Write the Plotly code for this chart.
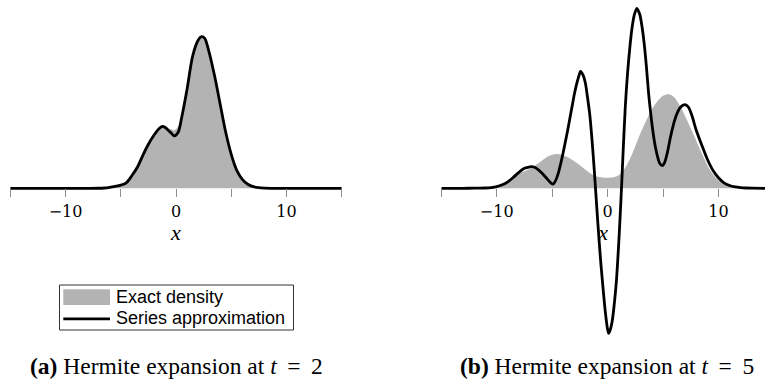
import plotly.graph_objects as go

# ---- t = 2 : exact density and truncated Hermite series ----
x_t2 = [-15, -13, -11, -9, -8, -7, -6.5, -6, -5.5, -5, -4.5, -4, -3.5, -3, -2.5, -2,
        -1.5, -1.25, -1, -0.5, -0.15, 0.2, 0.5, 1, 1.5, 2, 2.3, 2.6, 3, 3.5, 4, 4.5,
        5, 5.5, 6, 6.5, 7, 7.5, 8, 9, 11, 13, 15]
exact_t2 = [0, 0, 0, 0, 0, 0.00005, 0.0003, 0.001, 0.002, 0.0032, 0.0055, 0.012, 0.021,
            0.033, 0.044, 0.053, 0.059, 0.0605, 0.0605, 0.059, 0.058, 0.062, 0.074, 0.102,
            0.131, 0.147, 0.1505, 0.149, 0.135, 0.111, 0.083, 0.055, 0.033, 0.0175,
            0.0085, 0.0038, 0.0015, 0.0005, 0.0002, 0, 0, 0, 0]
series_t2 = [0, 0, 0, 0, 0, 0.00005, 0.0003, 0.001, 0.002, 0.0032, 0.0055, 0.0125, 0.021,
             0.033, 0.044, 0.053, 0.060, 0.062, 0.061, 0.056, 0.0525, 0.056, 0.070, 0.099,
             0.132, 0.148, 0.1516, 0.150, 0.136, 0.112, 0.084, 0.056, 0.034, 0.018,
             0.009, 0.004, 0.0016, 0.0006, 0.0002, 0, 0, 0, 0]

# ---- t = 5 ----
x_exact_t5 = [-15, -12, -11, -10.5, -10, -9.5, -9, -8.5, -8, -7.5, -7, -6.5, -6, -5.5, -5,
              -4.5, -4, -3.5, -3, -2.5, -2, -1.5, -1, -0.5, 0, 0.5, 1, 1.5, 2, 2.5, 3,
              3.5, 4, 4.5, 5, 5.5, 6, 6.5, 7, 7.5, 8, 8.5, 9, 9.5, 10, 10.5, 11, 11.5,
              12, 12.5, 13, 14.2]
exact_t5 = [0, 0, 0.0003, 0.0006, 0.0015, 0.0035, 0.0065, 0.0105, 0.0145, 0.017, 0.0195,
            0.023, 0.027, 0.031, 0.0335, 0.0343, 0.033, 0.0305, 0.027, 0.023, 0.0185,
            0.0145, 0.0118, 0.0108, 0.0105, 0.011, 0.013, 0.019, 0.029, 0.042, 0.056,
            0.068, 0.079, 0.087, 0.0925, 0.094, 0.091, 0.083, 0.072, 0.060, 0.0475,
            0.035, 0.023, 0.014, 0.008, 0.0045, 0.0022, 0.001, 0.0004, 0.0001, 0, 0]

x_series_t5 = [-15, -13, -12, -11, -10.5, -10, -9.5, -9, -8.5, -8, -7.5, -7, -6.85, -6.5,
               -6, -5.5, -5.1, -4.9, -4.6, -4.4, -4.2, -4, -3.8, -3.6, -3.4, -3.2, -3,
               -2.8, -2.6, -2.44, -2.2, -2, -1.8, -1.6, -1.4, -1.2, -1, -0.8, -0.6, -0.4,
               -0.2, 0, 0.1, 0.2, 0.4, 0.6, 0.8, 1, 1.2, 1.4, 1.6, 1.8, 2, 2.2, 2.4, 2.64,
               2.9, 3.1, 3.3, 3.5, 3.7, 3.9, 4.1, 4.3, 4.5, 4.7, 4.93, 5.15, 5.4, 5.65,
               5.9, 6.2, 6.5, 6.8, 7.04, 7.3, 7.6, 8, 8.5, 9, 9.5, 10, 10.5, 11, 11.5, 12,
               12.5, 13, 14.2]
series_t5 = [0, 0, 0.0001, 0.0003, 0.0007, 0.0016, 0.0035, 0.0065, 0.011, 0.016, 0.020,
             0.0215, 0.0216, 0.0205, 0.016, 0.010, 0.0052, 0.0042, 0.010, 0.017, 0.026,
             0.036, 0.047, 0.058, 0.070, 0.082, 0.094, 0.104, 0.112, 0.117, 0.113, 0.105,
             0.090, 0.073, 0.048, 0.018, -0.015, -0.047, -0.076, -0.101, -0.124, -0.141,
             -0.145, -0.143, -0.134, -0.116, -0.092, -0.056, -0.013, 0.036, 0.082, 0.115,
             0.140, 0.160, 0.173, 0.180, 0.174, 0.162, 0.145, 0.122, 0.095, 0.074, 0.056,
             0.042, 0.032, 0.025, 0.0226, 0.026, 0.036, 0.050, 0.062, 0.073, 0.080, 0.083,
             0.0835, 0.081, 0.073, 0.058, 0.043, 0.029, 0.018, 0.0105, 0.0055, 0.0028,
             0.0014, 0.0007, 0.0003, 0.0001, 0]

tick_vals = [-15, -10, -5, 0, 5, 10, 15]
tick_text = ["", "\u221210", "", "0", "", "10", ""]
captions = ["<b>(a)</b> Hermite expansion at <i>t</i>\u2009 = \u20092",
            "<b>(b)</b> Hermite expansion at <i>t</i>\u2009 = \u20095"]
legend_labels = ["Exact density", "Series approximation"]

W, H = 765, 382
GRAY = "#b3b3b3"
SERIF = "Liberation Serif"
TICK_SERIF = "DejaVu Serif"
SANS = "Liberation Sans"

fig = go.Figure()


def add_panel(xe, ye, xs, ys, xa, ya):
    fig.add_trace(go.Scatter(x=xe, y=ye, mode="lines", fill="tozeroy",
                             fillcolor=GRAY, line=dict(width=0, color=GRAY, shape="spline", smoothing=0.8),
                             xaxis=xa, yaxis=ya, showlegend=False, hoverinfo="skip"))
    fig.add_trace(go.Scatter(x=xs, y=ys, mode="lines",
                             line=dict(width=2.8, color="black", shape="spline", smoothing=0.8),
                             xaxis=xa, yaxis=ya, showlegend=False, hoverinfo="skip"))


add_panel(x_t2, exact_t2, x_t2, series_t2, "x", "y")
add_panel(x_exact_t5, exact_t5, x_series_t5, series_t5, "x2", "y2")

base_px = 188.3
y_top = base_px / 1000.0
y_bot = y_top - H / 1000.0
axis_pos = 1 - base_px / H

xaxis_common = dict(
    anchor="free", position=axis_pos,
    tickmode="array", tickvals=tick_vals, ticktext=tick_text,
    ticks="outside", ticklen=8, tickwidth=1, tickcolor="#8c8c8c",
    showgrid=False, zeroline=False, showline=False,
    tickfont=dict(family=TICK_SERIF, size=16, color="black"),
    title=dict(text="<i>x</i>", font=dict(family=SERIF, size=22, color="black"), standoff=2),
)
yaxis_common = dict(domain=[0, 1], range=[y_bot, y_top], visible=False, fixedrange=True)

fig.update_layout(
    width=W, height=H,
    margin=dict(l=0, r=0, t=0, b=0),
    paper_bgcolor="white", plot_bgcolor="rgba(0,0,0,0)",
    xaxis=dict(domain=[10.25 / W, 341.75 / W], range=[-15, 15], **xaxis_common),
    xaxis2=dict(domain=[441.3 / W, 1.0], range=[-15, 14.2], **xaxis_common),
    yaxis=yaxis_common,
    yaxis2=dict(**yaxis_common),
)


def px_x(v):
    return v / W


def px_y(v):
    return 1 - v / H


# legend box drawn in paper coordinates
shapes = [
    dict(type="rect", xref="paper", yref="paper", x0=px_x(59.5), x1=px_x(293.5),
         y0=px_y(330), y1=px_y(285), line=dict(color="#333", width=1), fillcolor="white"),
    dict(type="rect", xref="paper", yref="paper", x0=px_x(63.3), x1=px_x(110),
         y0=px_y(305), y1=px_y(289.3), line=dict(width=0), fillcolor=GRAY),
    dict(type="line", xref="paper", yref="paper", x0=px_x(63.3), x1=px_x(110),
         y0=px_y(318.8), y1=px_y(318.8), line=dict(color="black", width=2.8)),
]
annotations = [
    dict(text=legend_labels[0], xref="paper", yref="paper", x=px_x(113.5), y=px_y(296.7),
         xanchor="left", yanchor="middle", showarrow=False,
         font=dict(family=SANS, size=18, color="black")),
    dict(text=legend_labels[1], xref="paper", yref="paper", x=px_x(113.5), y=px_y(318.3),
         xanchor="left", yanchor="middle", showarrow=False,
         font=dict(family=SANS, size=18, color="black")),
    dict(text=captions[0], xref="paper", yref="paper", x=px_x(176), y=px_y(366),
         xanchor="center", yanchor="middle", showarrow=False,
         font=dict(family=SERIF, size=23.5, color="black")),
    dict(text=captions[1], xref="paper", yref="paper", x=px_x(606.7), y=px_y(366),
         xanchor="center", yanchor="middle", showarrow=False,
         font=dict(family=SERIF, size=23.5, color="black")),
]
fig.update_layout(shapes=shapes, annotations=annotations)

fig.write_html("out.html")
